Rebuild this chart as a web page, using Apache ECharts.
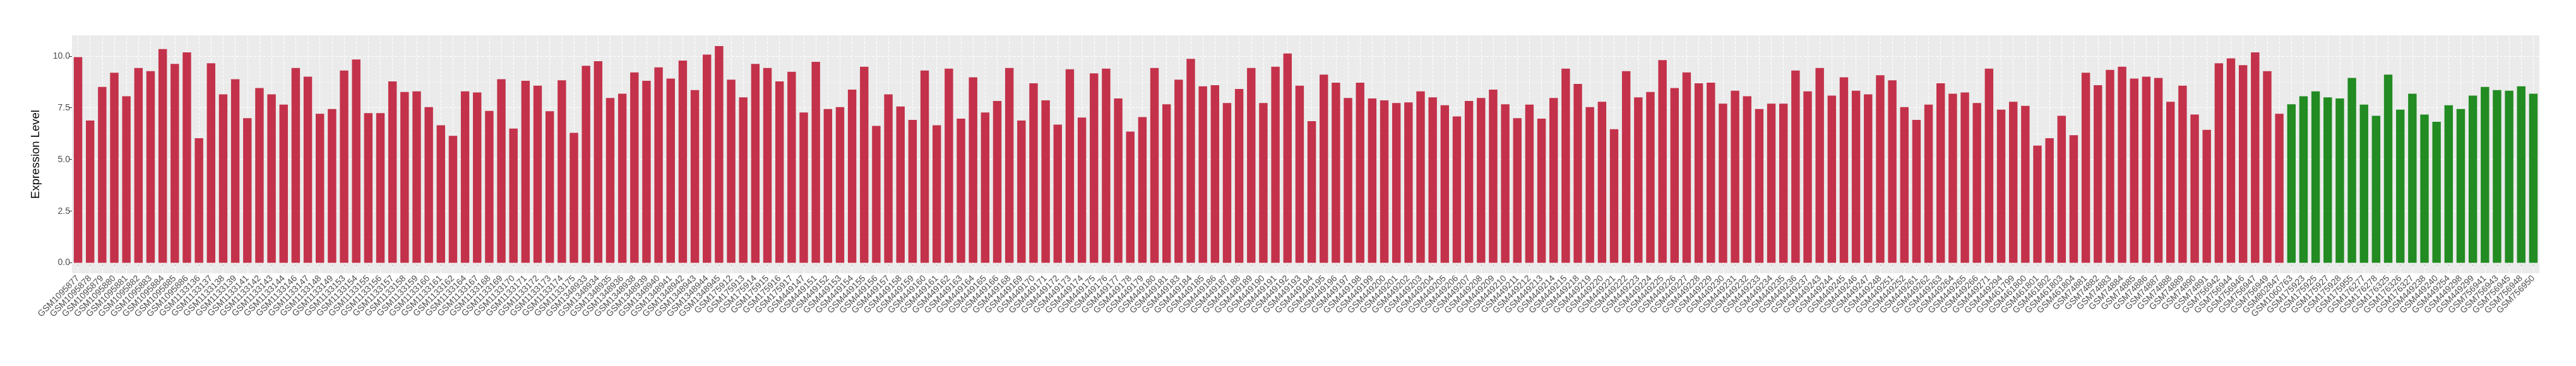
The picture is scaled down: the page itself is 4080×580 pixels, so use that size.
<!DOCTYPE html>
<html>
<head>
<meta charset="utf-8">
<script src="https://cdn.jsdelivr.net/npm/echarts@6/dist/echarts.min.js"></script>
<style>
html,body{margin:0;padding:0;background:#fff;}
#chart{width:4080px;height:580px;}
</style>
</head>
<body>
<div id="chart"></div>
<script>
// ---- data ----
const groupASamples = [
"GSM1095877","GSM1095878","GSM1095879","GSM1095880","GSM1095881","GSM1095882","GSM1095883","GSM1095884","GSM1095885","GSM1095886",
"GSM1133136","GSM1133137","GSM1133138","GSM1133139","GSM1133141","GSM1133142","GSM1133143","GSM1133144","GSM1133146","GSM1133147",
"GSM1133148","GSM1133149","GSM1133153","GSM1133154","GSM1133155","GSM1133156","GSM1133157","GSM1133158","GSM1133159","GSM1133160",
"GSM1133161","GSM1133162","GSM1133164","GSM1133167","GSM1133168","GSM1133169","GSM1133170","GSM1133171","GSM1133172","GSM1133173",
"GSM1133174","GSM1133175","GSM1348933","GSM1348934","GSM1348935","GSM1348936","GSM1348938","GSM1348939","GSM1348940","GSM1348941",
"GSM1348942","GSM1348943","GSM1348944","GSM1348945","GSM175912","GSM175913","GSM175914","GSM175915","GSM175916","GSM175917",
"GSM449147","GSM449151","GSM449152","GSM449153","GSM449154","GSM449155","GSM449156","GSM449157","GSM449158","GSM449159",
"GSM449160","GSM449161","GSM449162","GSM449163","GSM449164","GSM449165","GSM449166","GSM449168","GSM449169","GSM449170",
"GSM449171","GSM449172","GSM449173","GSM449174","GSM449175","GSM449176","GSM449177","GSM449178","GSM449179","GSM449180",
"GSM449181","GSM449183","GSM449184","GSM449185","GSM449186","GSM449187","GSM449188","GSM449189","GSM449190","GSM449191",
"GSM449192","GSM449193","GSM449194","GSM449195","GSM449196","GSM449197","GSM449198","GSM449199","GSM449200","GSM449201",
"GSM449202","GSM449203","GSM449204","GSM449205","GSM449206","GSM449207","GSM449208","GSM449209","GSM449210","GSM449211",
"GSM449212","GSM449213","GSM449214","GSM449215","GSM449218","GSM449219","GSM449220","GSM449221","GSM449222","GSM449223",
"GSM449224","GSM449225","GSM449226","GSM449227","GSM449228","GSM449229","GSM449230","GSM449231","GSM449232","GSM449233",
"GSM449234","GSM449235","GSM449236","GSM449237","GSM449243","GSM449244","GSM449245","GSM449246","GSM449247","GSM449248",
"GSM449251","GSM449252","GSM449261","GSM449262","GSM449263","GSM449264","GSM449265","GSM449266","GSM449271","GSM449294",
"GSM461799","GSM461800","GSM461801","GSM461802","GSM461803","GSM461804","GSM74881","GSM74882","GSM74883","GSM74884",
"GSM74885","GSM74886","GSM74887","GSM74888","GSM74889","GSM74890","GSM74891","GSM756942","GSM756944","GSM756946",
"GSM756947","GSM756949","GSM802847"
];
const groupAValues = [
9.95,6.88,8.51,9.19,8.06,9.42,9.27,10.34,9.62,10.18,
6.03,9.65,8.15,8.88,7.00,8.45,8.15,7.65,9.42,9.00,
7.21,7.44,9.30,9.83,7.24,7.24,8.77,8.26,8.29,7.53,
6.65,6.14,8.29,8.24,7.35,8.88,6.49,8.80,8.57,7.33,
8.83,6.29,9.53,9.75,7.97,8.18,9.21,8.80,9.45,8.91,
9.78,8.35,10.07,10.48,8.86,8.00,9.62,9.42,8.77,9.24,
7.27,9.72,7.44,7.53,8.38,9.48,6.62,8.15,7.56,6.91,
9.30,6.65,9.39,6.97,8.97,7.27,7.83,9.42,6.88,8.68,
7.86,6.68,9.36,7.03,9.16,9.39,7.95,6.35,7.05,9.42,
7.67,8.86,9.86,8.54,8.59,7.73,8.41,9.42,7.73,9.48,
10.12,8.57,6.85,9.10,8.71,7.97,8.71,7.95,7.86,7.73,
7.76,8.29,8.00,7.62,7.08,7.83,7.97,8.38,7.67,7.00,
7.65,6.97,7.97,9.39,8.65,7.53,7.79,6.46,9.27,8.00,
8.26,9.80,8.45,9.21,8.68,8.71,7.70,8.32,8.06,7.44,
7.70,7.70,9.30,8.29,9.42,8.09,8.97,8.32,8.15,9.07,
8.83,7.53,6.91,7.65,8.68,8.18,8.24,7.73,9.39,7.41,
7.79,7.59,5.67,6.03,7.11,6.17,9.19,8.59,9.33,9.48,
8.91,9.00,8.94,7.79,8.57,7.17,6.43,9.65,9.89,9.56,
10.18,9.27,7.21
];
const groupBSamples = [
"GSM1060763","GSM175923","GSM175925","GSM175927","GSM175928","GSM175955","GSM176277","GSM176278","GSM176325","GSM176326",
"GSM176327","GSM449238","GSM449240","GSM449254","GSM449298","GSM449299","GSM756941","GSM756943","GSM756945","GSM756948",
"GSM756950"
];
const groupBValues = [
7.67,8.06,8.29,8.00,7.95,8.94,7.65,7.11,9.10,7.41,
8.18,7.17,6.82,7.62,7.44,8.09,8.51,8.35,8.32,8.54,
8.18
];
const yTickValues = [0, 2.5, 5, 7.5, 10];
const yMinorValues = [1.25, 3.75, 6.25, 8.75];
const yAxisTitle = "Expression Level";

// ---- build ----
const categories = groupASamples.concat(groupBSamples);
const seriesA = groupAValues.concat(groupBSamples.map(() => '-'));
const seriesB = groupASamples.map(() => '-').concat(groupBValues);

const gridLines = []
  .concat(categories.map(c => ({ xAxis: c, lineStyle: { color: '#FFFFFF', width: 1.1 } })))
  .concat(yTickValues.map(v => ({ yAxis: v, lineStyle: { color: '#FFFFFF', width: 1.2 } })))
  .concat(yMinorValues.map(v => ({ yAxis: v, lineStyle: { color: '#FFFFFF', width: 0.6 } })));

const font = '"Liberation Sans", Arial, Helvetica, sans-serif';
const chart = echarts.init(document.getElementById('chart'), null, { renderer: 'canvas' });
chart.setOption({
  animation: false,
  backgroundColor: '#FFFFFF',
  grid: {
    left: 114, right: 58, top: 56, bottom: 147,
    show: true, backgroundColor: '#EBEBEB', borderWidth: 0
  },
  xAxis: {
    type: 'category',
    data: categories,
    axisLine: { show: false },
    axisTick: { show: true, alignWithLabel: true, length: 4, lineStyle: { color: '#333333', width: 1 } },
    axisLabel: { interval: 0, rotate: 45, fontSize: 14, color: '#4D4D4D', fontFamily: font, margin: 6 },
    splitLine: { show: false }
  },
  yAxis: {
    type: 'value',
    min: -0.5, max: 11,
    name: yAxisTitle,
    nameLocation: 'middle',
    nameGap: 48,
    nameTextStyle: { fontSize: 18.5, color: '#000000', fontFamily: font },
    axisLine: { show: false },
    axisTick: { show: true, length: 4, customValues: yTickValues, lineStyle: { color: '#333333', width: 1 } },
    axisLabel: { customValues: yTickValues, fontSize: 14, color: '#4D4D4D', fontFamily: font, margin: 3,
                 formatter: v => Number(v).toFixed(1) },
    splitLine: { show: false }
  },
  series: [
    {
      type: 'bar', name: 'A', data: seriesA, barWidth: '70%', barGap: '-100%', z: 2,
      itemStyle: { color: '#C3324A' },
      markLine: {
        silent: true, z: 1, symbol: ['none', 'none'], label: { show: false },
        animation: false, emphasis: { disabled: true },
        data: gridLines
      }
    },
    {
      type: 'bar', name: 'B', data: seriesB, barWidth: '70%', barGap: '-100%', z: 2,
      itemStyle: { color: '#228B22' }
    }
  ]
});
</script>
</body>
</html>
